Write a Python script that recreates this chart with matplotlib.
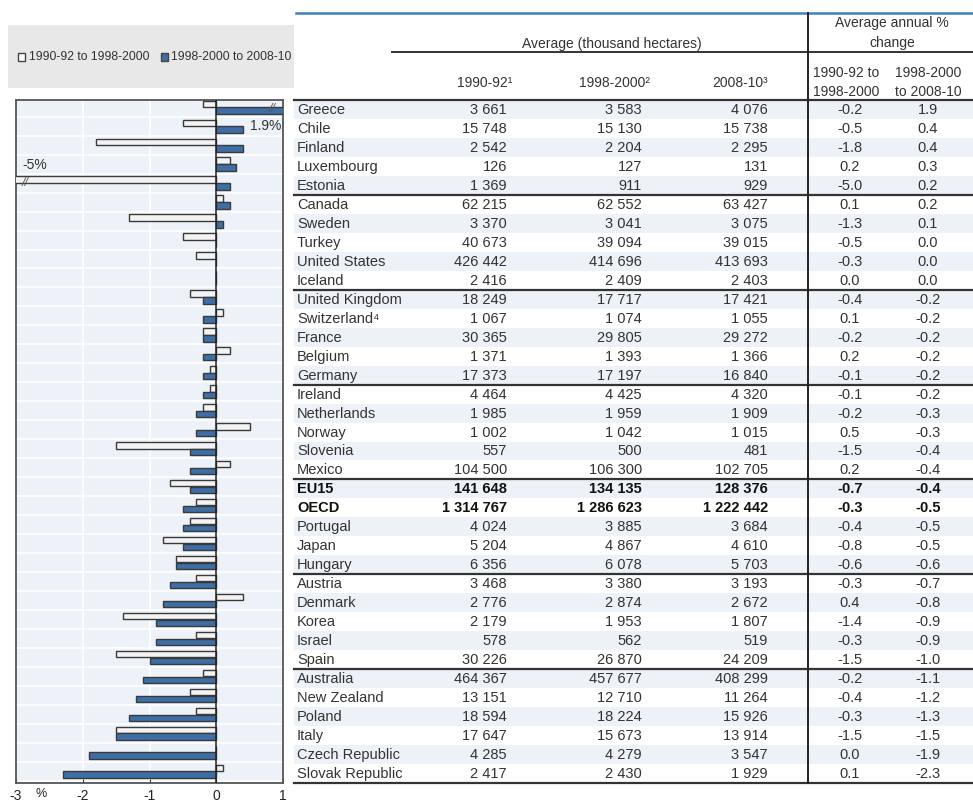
import matplotlib
matplotlib.use("Agg")
import matplotlib.pyplot as plt
from matplotlib.patches import Rectangle
import numpy as np

plt.rcParams['font.family'] = ['Liberation Sans', 'DejaVu Sans']

countries = ["Greece", "Chile", "Finland", "Luxembourg", "Estonia",
             "Canada", "Sweden", "Turkey", "United States", "Iceland",
             "United Kingdom", "Switzerland\u2074", "France", "Belgium", "Germany",
             "Ireland", "Netherlands", "Norway", "Slovenia", "Mexico",
             "EU15", "OECD", "Portugal", "Japan", "Hungary",
             "Austria", "Denmark", "Korea", "Israel", "Spain",
             "Australia", "New Zealand", "Poland", "Italy", "Czech Republic", "Slovak Republic"]
area_1990_92 = [3661, 15748, 2542, 126, 1369,
                62215, 3370, 40673, 426442, 2416,
                18249, 1067, 30365, 1371, 17373,
                4464, 1985, 1002, 557, 104500,
                141648, 1314767, 4024, 5204, 6356,
                3468, 2776, 2179, 578, 30226,
                464367, 13151, 18594, 17647, 4285, 2417]
area_1998_2000 = [3583, 15130, 2204, 127, 911,
                  62552, 3041, 39094, 414696, 2409,
                  17717, 1074, 29805, 1393, 17197,
                  4425, 1959, 1042, 500, 106300,
                  134135, 1286623, 3885, 4867, 6078,
                  3380, 2874, 1953, 562, 26870,
                  457677, 12710, 18224, 15673, 4279, 2430]
area_2008_10 = [4076, 15738, 2295, 131, 929,
                63427, 3075, 39015, 413693, 2403,
                17421, 1055, 29272, 1366, 16840,
                4320, 1909, 1015, 481, 102705,
                128376, 1222442, 3684, 4610, 5703,
                3193, 2672, 1807, 519, 24209,
                408299, 11264, 15926, 13914, 3547, 1929]
chg_1 = [-0.2, -0.5, -1.8, 0.2, -5.0,
         0.1, -1.3, -0.5, -0.3, 0.0,
         -0.4, 0.1, -0.2, 0.2, -0.1,
         -0.1, -0.2, 0.5, -1.5, 0.2,
         -0.7, -0.3, -0.4, -0.8, -0.6,
         -0.3, 0.4, -1.4, -0.3, -1.5,
         -0.2, -0.4, -0.3, -1.5, 0.0, 0.1]
chg_2 = [1.9, 0.4, 0.4, 0.3, 0.2,
         0.2, 0.1, 0.0, 0.0, 0.0,
         -0.2, -0.2, -0.2, -0.2, -0.2,
         -0.2, -0.3, -0.3, -0.4, -0.4,
         -0.4, -0.5, -0.5, -0.5, -0.6,
         -0.7, -0.8, -0.9, -0.9, -1.0,
         -1.1, -1.2, -1.3, -1.5, -1.9, -2.3]
bold_rows = ["EU15", "OECD"]
group_ends = [4, 9, 14, 19, 24, 29]
legend_labels = ["1990-92 to 1998-2000", "1998-2000 to 2008-10"]
x_ticks = [-3, -2, -1, 0, 1]

W, H = 973, 810
fig = plt.figure(figsize=(W / 100, H / 100), dpi=100)

BLUE = "#3d6fa6"
EDGE = "#3a3a3a"
BG = "#edf1f8"

n = len(countries)
top, bot = 100, 783
rh = (bot - top) / n

# ---------------- bar chart ----------------
ax = fig.add_axes([16 / W, (H - bot) / H, 267 / W, (bot - top) / H])
ax.set_facecolor(BG)
ax.set_xlim(-3, 1)
ax.set_ylim(n - 0.5 + 0.12, -0.5 + 0.12)
ypos = np.arange(n)
bh = 0.34
ax.barh(ypos - 0.18, chg_1, height=bh, color="#f3f3f3", edgecolor=EDGE, linewidth=1.0, zorder=3)
ax.barh(ypos + 0.18, chg_2, height=bh, color=BLUE, edgecolor=EDGE, linewidth=1.0, zorder=3)
for b in np.arange(n + 1) - 0.5:
    ax.axhline(b, color="white", lw=1.2, zorder=1)
for v in [-2, -1]:
    ax.axvline(v, color="white", lw=1.2, zorder=1)
ax.axvline(0, color="#222222", lw=1.1, zorder=4)
for s in ax.spines.values():
    s.set_color("#555555")
    s.set_linewidth(1.3)
ax.set_yticks([])
ax.set_xticks(x_ticks)
ax.set_xticklabels([str(t) for t in x_ticks], fontsize=10, color="#222222")
ax.tick_params(axis="x", direction="in", length=3, pad=4, color="#333333")
ax.text(-2.62, -0.008, "%", fontsize=9, va="top", ha="center", color="#222222",
        transform=ax.get_xaxis_transform(), clip_on=False)
# break marks and labels
ax.text(0.84, 0.1, "//", fontsize=9, ha="center", va="center", color="#555555", style="italic", zorder=5)
ax.text(0.97, 0.98, "1.9%", fontsize=10, ha="right", va="center", color="#333333", zorder=5)
ax.text(-2.86, 4.0, "//", fontsize=9, ha="center", va="center", color="#555555", style="italic", zorder=5)
ax.text(-2.9, 3.05, "-5%", fontsize=10, ha="left", va="center", color="#333333", zorder=5)

# ---------------- table + legend overlay ----------------
at = fig.add_axes([0, 0, 1, 1], zorder=-1)
at.set_xlim(0, W)
at.set_ylim(H, 0)
at.axis("off")

# legend box
at.add_patch(Rectangle((8, 25), 286, 63, color="#e8e8e8", lw=0))
at.add_patch(Rectangle((18, 53), 7, 8, facecolor="white", edgecolor="#444444", lw=1))
at.text(29, 57, legend_labels[0], fontsize=8.8, va="center", ha="left", color="#333333")
at.add_patch(Rectangle((161, 53), 7, 8, facecolor=BLUE, edgecolor="#444444", lw=1))
at.text(171, 57, legend_labels[1], fontsize=8.8, va="center", ha="left", color="#333333")

tx0 = 294
x_name = 297
x_c1, x_c2, x_c3 = 507, 642, 768
x_c4, x_c5 = 850, 928
x_vline = 808

# row shading
for i in range(n):
    y0 = top + i * rh
    if i % 2 == 0:
        at.add_patch(Rectangle((tx0, y0), W - tx0, rh, color="#edf1f8", lw=0))

def fmt(v):
    return f"{v:,}".replace(",", " ")

fs = 10.5
for i, c in enumerate(countries):
    yc = top + (i + 0.5) * rh + 0.5
    fw = "bold" if c in bold_rows else "normal"
    col = "#111111" if c in bold_rows else "#333333"
    kw = dict(fontsize=fs, va="center", color=col, fontweight=fw)
    at.text(x_name, yc, c, ha="left", **kw)
    at.text(x_c1, yc, fmt(area_1990_92[i]), ha="right", **kw)
    at.text(x_c2, yc, fmt(area_1998_2000[i]), ha="right", **kw)
    at.text(x_c3, yc, fmt(area_2008_10[i]), ha="right", **kw)
    at.text(x_c4, yc, f"{chg_1[i]:.1f}", ha="center", **kw)
    at.text(x_c5, yc, f"{chg_2[i]:.1f}", ha="center", **kw)

# lines
at.plot([tx0 + 2, W], [13, 13], color="#3f7fc0", lw=1.8)
at.plot([392, W], [52, 52], color="#333333", lw=1.4)
at.plot([tx0, W], [top, top], color="#333333", lw=1.6)
for g in group_ends:
    yb = top + (g + 1) * rh
    at.plot([tx0, W], [yb, yb], color="#333333", lw=1.6)
at.plot([tx0, W], [bot, bot], color="#333333", lw=1.6)
at.plot([x_vline, x_vline], [13, bot], color="#222222", lw=1.4)

# headers
hk = dict(fontsize=10, color="#333333")
at.text(612, 44, "Average (thousand hectares)", ha="center", va="center", **hk)
at.text(892, 23, "Average annual %", ha="center", va="center", **hk)
at.text(892, 43, "change", ha="center", va="center", **hk)
at.text(485, 83, "1990-92\u00b9", ha="center", va="center", **hk)
at.text(615, 83, "1998-2000\u00b2", ha="center", va="center", **hk)
at.text(740, 83, "2008-10\u00b3", ha="center", va="center", **hk)
at.text(846, 73, "1990-92 to", ha="center", va="center", **hk)
at.text(846, 92, "1998-2000", ha="center", va="center", **hk)
at.text(928, 73, "1998-2000", ha="center", va="center", **hk)
at.text(928, 92, "to 2008-10", ha="center", va="center", **hk)

fig.savefig("out.png", dpi=100)
